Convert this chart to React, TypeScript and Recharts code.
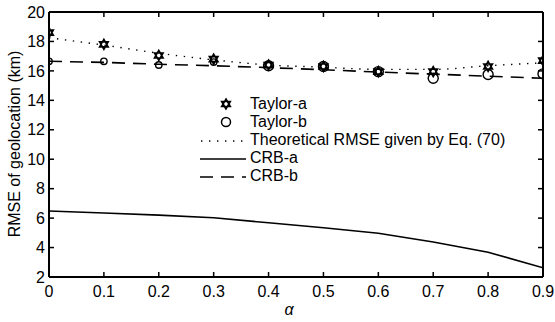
import { ComposedChart, Line, XAxis, YAxis } from 'recharts';

const ALPHA = [0, 0.1, 0.2, 0.3, 0.4, 0.5, 0.6, 0.7, 0.8, 0.9];
const TAYLOR_A = [18.6, 17.8, 17.05, 16.8, 16.4, 16.3, 15.95, 15.95, 16.3, 16.7];
const TAYLOR_B = [16.65, 16.65, 16.4, 16.6, 16.35, 16.3, 15.95, 15.5, 15.75, 15.8];
const THEORY = [18.25, 17.75, 17.2, 16.75, 16.4, 16.25, 16.1, 16.1, 16.35, 16.55];
const CRB_A = [6.48, 6.35, 6.2, 6.02, 5.68, 5.35, 4.97, 4.38, 3.68, 2.63];
const CRB_B = [16.65, 16.58, 16.45, 16.35, 16.22, 16.08, 15.92, 15.78, 15.64, 15.5];

const X_TICKS = ALPHA;
const Y_TICKS = [2, 4, 6, 8, 10, 12, 14, 16, 18, 20];

const data = ALPHA.map((a, i) => ({
  alpha: a,
  taylorA: TAYLOR_A[i],
  taylorB: TAYLOR_B[i],
  theory: THEORY[i],
  crbA: CRB_A[i],
  crbB: CRB_B[i],
}));

const FONT = 'Arial, "Liberation Sans", sans-serif';

function starPath(cx: number, cy: number, r: number) {
  const tri = (rot: number) =>
    [0, 1, 2]
      .map((k) => {
        const t = rot + (k * 2 * Math.PI) / 3;
        return `${k === 0 ? 'M' : 'L'}${cx + r * Math.sin(t)},${cy - r * Math.cos(t)}`;
      })
      .join(' ') + ' Z';
  return tri(0) + ' ' + tri(Math.PI);
}

const StarDot = (props: any) => {
  const { cx, cy } = props;
  if (cx == null || cy == null) return null;
  return <path d={starPath(cx, cy, 5)} fill="none" stroke="#000" strokeWidth={1.6} />;
};

const CircleDot = (props: any) => {
  const { cx, cy, index } = props;
  if (cx == null || cy == null) return null;
  return <circle cx={cx} cy={cy} r={index < 4 ? 3.2 : 5} fill="none" stroke="#000" strokeWidth={1.4} />;
};

// keeps the tick lines of the top/right frame axes but draws no label
const NoLabel = () => <g />;

const BottomLabel = (props: any) => {
  const { x, y, payload } = props;
  return (
    <text x={x} y={y} dy="0.71em" textAnchor="middle" fontFamily={FONT} fontSize={16} fill="#000">
      {String(Math.round(payload.value * 10) / 10)}
    </text>
  );
};

const LeftLabel = (props: any) => {
  const { x, y, payload } = props;
  return (
    <text x={x} y={y} dy="0.355em" textAnchor="end" fontFamily={FONT} fontSize={16} fill="#000">
      {payload.value}
    </text>
  );
};

const YTitle = () => (
  <text
    x={14}
    y={144}
    transform="rotate(-90 14 144)"
    textAnchor="middle"
    dominantBaseline="central"
    fontFamily={FONT}
    fontSize={16}
    fill="#000"
  >
    RMSE of geolocation (km)
  </text>
);

const XTitle = () => (
  <text x={289} y={315} textAnchor="middle" fontFamily={FONT} fontSize={16} fontStyle="italic" fill="#000">
    α
  </text>
);

const legendRows = [
  { label: 'Taylor-a', kind: 'star' },
  { label: 'Taylor-b', kind: 'circle' },
  { label: 'Theoretical RMSE given by Eq. (70)', kind: 'dot' },
  { label: 'CRB-a', kind: 'solid' },
  { label: 'CRB-b', kind: 'dash' },
];

const LegendBox = () => (
  <div style={{ position: 'absolute', left: 200, top: 95, zIndex: 1, fontFamily: FONT, fontSize: 16, color: '#000' }}>
    {legendRows.map((r) => (
      <div key={r.label} style={{ display: 'flex', alignItems: 'center', height: 18 }}>
        <svg width={50} height={18} style={{ flex: 'none' }}>
          {r.kind === 'star' && <path d={starPath(26, 9, 5)} fill="none" stroke="#000" strokeWidth={1.6} />}
          {r.kind === 'circle' && <circle cx={26} cy={9} r={4.5} fill="none" stroke="#000" strokeWidth={1.5} />}
          {r.kind === 'dot' && (
            <line x1={1} y1={10} x2={48} y2={10} stroke="#000" strokeWidth={1.4} strokeDasharray="1.4 6.6" />
          )}
          {r.kind === 'solid' && <line x1={0} y1={10} x2={46} y2={10} stroke="#000" strokeWidth={1.6} />}
          {r.kind === 'dash' && (
            <line x1={0} y1={10} x2={46} y2={10} stroke="#000" strokeWidth={1.6} strokeDasharray="13 8" />
          )}
        </svg>
        <span style={{ whiteSpace: 'nowrap' }}>{r.label}</span>
      </div>
    ))}
  </div>
);

export default function App() {
  return (
    <div style={{ position: 'absolute', left: 0, top: 0, width: 555, height: 322, background: '#fff' }}>
      <LegendBox />
      <ComposedChart width={555} height={322} data={data} margin={{ top: 11, right: 11, bottom: 0, left: 0 }}>
        <XAxis
          xAxisId="b"
          dataKey="alpha"
          type="number"
          domain={[0, 0.9]}
          ticks={X_TICKS}
          interval={0}
          height={45}
          axisLine={{ stroke: '#000', strokeWidth: 2 }}
          tickLine={{ stroke: '#000', strokeWidth: 1.5 }}
          tickSize={-5}
          tickMargin={14}
          tick={<BottomLabel />}
          label={<XTitle />}
          allowDataOverflow
        />
        <XAxis
          xAxisId="t"
          orientation="top"
          dataKey="alpha"
          type="number"
          domain={[0, 0.9]}
          ticks={X_TICKS}
          interval={0}
          height={1}
          axisLine={{ stroke: '#000', strokeWidth: 2 }}
          tickLine={{ stroke: '#000', strokeWidth: 1.5 }}
          tickSize={-5}
          tick={<NoLabel />}
          allowDataOverflow
        />
        <YAxis
          yAxisId="l"
          type="number"
          domain={[2, 20]}
          ticks={Y_TICKS}
          interval={0}
          width={49}
          axisLine={{ stroke: '#000', strokeWidth: 2 }}
          tickLine={{ stroke: '#000', strokeWidth: 1.5 }}
          tickSize={-5}
          tickMargin={9}
          tick={<LeftLabel />}
          label={<YTitle />}
          allowDataOverflow
        />
        <YAxis
          yAxisId="r"
          orientation="right"
          type="number"
          domain={[2, 20]}
          ticks={Y_TICKS}
          interval={0}
          width={1}
          axisLine={{ stroke: '#000', strokeWidth: 2 }}
          tickLine={{ stroke: '#000', strokeWidth: 1.5 }}
          tickSize={-5}
          tick={<NoLabel />}
          allowDataOverflow
        />
        <Line
          xAxisId="b"
          yAxisId="l"
          dataKey="theory"
          type="monotone"
          stroke="#000"
          strokeWidth={1.4}
          strokeDasharray="1.4 6.6"
          dot={false}
          isAnimationActive={false}
        />
        <Line
          xAxisId="b"
          yAxisId="l"
          dataKey="crbA"
          type="linear"
          stroke="#000"
          strokeWidth={1.6}
          dot={false}
          isAnimationActive={false}
        />
        <Line
          xAxisId="b"
          yAxisId="l"
          dataKey="crbB"
          type="linear"
          stroke="#000"
          strokeWidth={1.6}
          strokeDasharray="13 8"
          dot={false}
          isAnimationActive={false}
        />
        <Line
          xAxisId="b"
          yAxisId="l"
          dataKey="taylorB"
          stroke="none"
          dot={<CircleDot />}
          activeDot={false}
          isAnimationActive={false}
        />
        <Line
          xAxisId="b"
          yAxisId="l"
          dataKey="taylorA"
          stroke="none"
          dot={<StarDot />}
          activeDot={false}
          isAnimationActive={false}
        />
      </ComposedChart>
    </div>
  );
}
